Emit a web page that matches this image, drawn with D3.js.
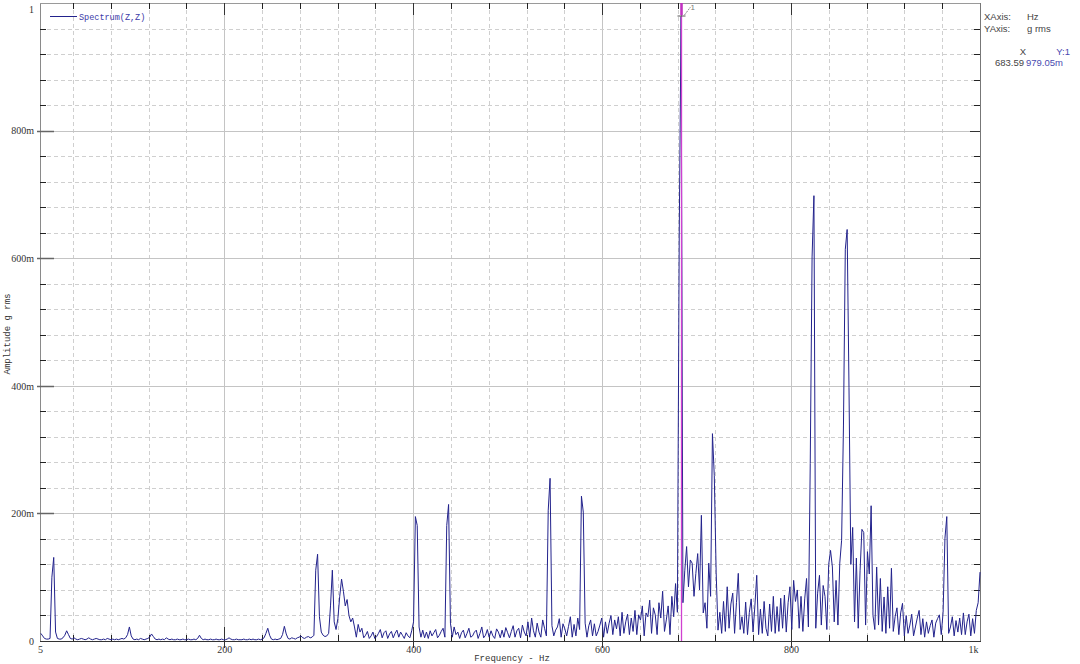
<!DOCTYPE html>
<html><head><meta charset="utf-8">
<script src="https://cdn.jsdelivr.net/npm/d3@7"></script>
<style>body{margin:0;background:#fff;} svg{display:block;}</style>
</head><body><svg id="c" width="1080" height="664"></svg>
<script>
// FFT spectrum: bin width and first displayed bin
const binWidthHz = 1.953125;
const firstBin = 3;
// amplitude in milli-g rms, one value per bin (bins 3..512)
const amplitudeMilliG = [
12, 8, 4, 3, 3, 4, 100, 131, 14, 4,
3, 3, 5, 9, 16, 10, 4, 3, 5, 3,
2, 3, 4, 3, 2, 3, 5, 3, 2, 3,
4, 3, 2, 2, 3, 2, 4, 3, 2, 3,
2, 3, 2, 3, 4, 3, 5, 10, 22, 8,
3, 2, 3, 2, 4, 3, 2, 3, 4, 6,
11, 7, 3, 2, 3, 2, 3, 2, 5, 3,
2, 3, 2, 2, 3, 2, 2, 3, 2, 2,
3, 2, 2, 3, 2, 4, 9, 4, 2, 3,
2, 2, 3, 2, 2, 3, 2, 2, 3, 2,
2, 3, 5, 3, 2, 2, 3, 2, 2, 2,
3, 2, 2, 3, 2, 3, 2, 2, 3, 2,
3, 5, 12, 20, 9, 3, 2, 3, 2, 3,
4, 10, 23, 11, 4, 3, 5, 4, 3, 5,
6, 8, 5, 4, 6, 7, 5, 6, 9, 111,
136, 38, 14, 9, 7, 8, 12, 55, 111, 30,
18, 35, 70, 97, 78, 55, 65, 40, 30, 36,
22, 6, 26, 14, 20, 5, 9, 15, 4, 8,
14, 4, 7, 12, 18, 5, 13, 16, 4, 11,
15, 5, 12, 17, 6, 14, 9, 4, 13, 8,
5, 16, 30, 195, 181, 22, 6, 17, 5, 14,
4, 16, 8, 13, 18, 5, 9, 15, 20, 6,
181, 214, 28, 6, 22, 10, 14, 4, 13, 17,
5, 12, 20, 6, 8, 14, 17, 4, 12, 22,
5, 9, 18, 6, 16, 8, 4, 19, 14, 5,
17, 6, 21, 13, 5, 15, 24, 6, 16, 20,
5, 25, 14, 8, 30, 6, 36, 16, 6, 28,
14, 6, 33, 20, 8, 205, 255, 24, 8, 17,
22, 35, 6, 27, 19, 8, 23, 38, 6, 26,
8, 36, 18, 227, 202, 28, 6, 24, 33, 8,
27, 8, 15, 25, 36, 6, 30, 12, 28, 40,
10, 33, 19, 38, 8, 45, 12, 30, 42, 10,
36, 15, 48, 10, 41, 33, 55, 8, 44, 38,
64, 12, 52, 41, 10, 60, 36, 78, 15, 33,
55, 10, 70, 38, 90, 45, 638, 979, 60, 110,
148, 85, 127, 122, 70, 106, 137, 80, 197, 44,
60, 20, 122, 70, 325, 259, 108, 17, 45, 12,
62, 15, 85, 20, 58, 75, 12, 60, 106, 18,
38, 12, 61, 10, 45, 66, 14, 55, 103, 10,
50, 12, 62, 20, 8, 58, 15, 70, 12, 54,
15, 67, 20, 72, 14, 60, 85, 18, 95, 62,
80, 20, 70, 15, 66, 98, 22, 278, 602, 698,
20, 75, 103, 25, 87, 70, 18, 120, 142, 116,
30, 95, 25, 122, 158, 337, 614, 645, 397, 120,
178, 30, 130, 20, 110, 175, 170, 25, 140, 105,
212, 40, 18, 116, 25, 98, 15, 69, 12, 85,
20, 114, 15, 38, 52, 10, 44, 59, 8, 40,
12, 25, 42, 8, 22, 36, 48, 10, 35, 6,
30, 12, 24, 33, 6, 28, 35, 41, 10, 45,
161, 195, 12, 22, 38, 8, 32, 14, 36, 10,
44, 10, 30, 42, 8, 35, 12, 48, 60, 108
];
const xTickValues = [5, 200, 400, 600, 800, 1000];
const xTickLabels = ["5", "200", "400", "600", "800", "1k"];
const yTickValues = [0, 200, 400, 600, 800, 1000];
const yTickLabels = ["0", "200m", "400m", "600m", "800m", "1"];
const xMinorStep = 40;   // Hz
const yMinorStep = 40;   // milli-g
const legendLabel = "Spectrum(Z,Z)";
const xTitle = "Frequency - Hz";
const yTitle = "Amplitude g rms";
const cursorFreq = 683.59;
const cursorLabel = "1";
const infoLines = [["XAxis:", "Hz"], ["YAxis:", "g rms"]];
const cursorHeader = ["X", "Y:1"];
const cursorReadout = ["683.59", "979.05m"];

const svg = d3.select("#c");
const L = 40, R = 980, T = 3, B = 641;
const x = d3.scaleLinear().domain([5, 1000]).range([L, R]);
const y = d3.scaleLinear().domain([0, 1000]).range([B, T]);

svg.append("rect").attr("width", 1080).attr("height", 664).attr("fill", "#fff");

// grid
const xMinor = d3.range(xMinorStep, 1000, xMinorStep);
const yMinor = d3.range(yMinorStep, 1000, yMinorStep);
const isMajor = v => v % 200 === 0;
const g = svg.append("g");
g.selectAll(".vx").data(xMinor).join("line")
  .attr("x1", d => Math.round(x(d)) + 0.5).attr("x2", d => Math.round(x(d)) + 0.5)
  .attr("y1", T).attr("y2", B)
  .attr("stroke", d => isMajor(d) ? "#c4c4c4" : "#cfcfcf")
  .attr("stroke-dasharray", d => isMajor(d) ? null : "4,3");
g.selectAll(".hy").data(yMinor).join("line")
  .attr("y1", d => Math.round(y(d)) + 0.5).attr("y2", d => Math.round(y(d)) + 0.5)
  .attr("x1", L).attr("x2", R)
  .attr("stroke", d => isMajor(d) ? "#c4c4c4" : "#cfcfcf")
  .attr("stroke-dasharray", d => isMajor(d) ? null : "4,3");

// frame
svg.append("line").attr("x1", L + 0.5).attr("x2", L + 0.5).attr("y1", T).attr("y2", B).attr("stroke", "#8a8a8a");
svg.append("line").attr("x1", L).attr("x2", R).attr("y1", T + 0.5).attr("y2", T + 0.5).attr("stroke", "#9a9a9a");
svg.append("line").attr("x1", R + 0.5).attr("x2", R + 0.5).attr("y1", T).attr("y2", B).attr("stroke", "#777");
svg.append("line").attr("x1", L).attr("x2", R + 1).attr("y1", B + 0.5).attr("y2", B + 0.5).attr("stroke", "#333");

// tick marks
const tk = svg.append("g");
xMinor.forEach(d => {
  const px = Math.round(x(d)) + 0.5;
  if (isMajor(d)) {
    tk.append("line").attr("x1", px).attr("x2", px).attr("y1", B - 14).attr("y2", B + 7).attr("stroke", "#333");
    tk.append("line").attr("x1", px).attr("x2", px).attr("y1", T).attr("y2", T + 12).attr("stroke", "#333");
  } else {
    tk.append("line").attr("x1", px).attr("x2", px).attr("y1", B - 6).attr("y2", B).attr("stroke", "#222");
    tk.append("line").attr("x1", px).attr("x2", px).attr("y1", T).attr("y2", T + 6).attr("stroke", "#222");
  }
});
yMinor.forEach(d => {
  const py = Math.round(y(d)) + 0.5;
  if (isMajor(d)) {
    tk.append("line").attr("x1", L - 3).attr("x2", L + 14).attr("y1", py).attr("y2", py).attr("stroke", "#666").attr("stroke-width", 1.5);
    tk.append("line").attr("x1", R - 10).attr("x2", R).attr("y1", py).attr("y2", py).attr("stroke", "#333");
  } else {
    tk.append("line").attr("x1", L).attr("x2", L + 6).attr("y1", py).attr("y2", py).attr("stroke", "#222");
    tk.append("line").attr("x1", R - 6).attr("x2", R).attr("y1", py).attr("y2", py).attr("stroke", "#222");
  }
});

// axis labels via d3 axes
const xAxis = d3.axisBottom(x).tickValues(xTickValues).tickFormat((d, i) => xTickLabels[i]).tickSize(0).tickPadding(5);
const xa = svg.append("g").attr("transform", `translate(0,${B})`).call(xAxis);
xa.select(".domain").remove();
xa.selectAll("text").attr("font-family", "Liberation Serif, serif").attr("font-size", 10).attr("fill", "#333");
xa.selectAll(".tick").filter(d => d === 1000).select("text").attr("text-anchor", "end").attr("dx", -2);
const yAxis = d3.axisLeft(y).tickValues(yTickValues).tickFormat((d, i) => yTickLabels[i]).tickSize(0).tickPadding(6);
const ya = svg.append("g").attr("transform", `translate(${L},0)`).call(yAxis);
ya.select(".domain").remove();
ya.selectAll("text").attr("font-family", "Liberation Serif, serif").attr("font-size", 10).attr("fill", "#333");
ya.selectAll(".tick").filter(d => d === 1000).select("text").attr("dy", "0.95em");

// titles
svg.append("text").attr("x", 512).attr("y", 661).attr("text-anchor", "middle")
  .attr("font-family", "Liberation Mono, monospace").attr("font-size", 9).attr("fill", "#333").text(xTitle);
svg.append("text").attr("transform", "translate(10,334) rotate(-90)").attr("text-anchor", "middle")
  .attr("font-family", "Liberation Mono, monospace").attr("font-size", 9).attr("fill", "#333").text(yTitle);

// spectrum
const spectrum = amplitudeMilliG.map((v, i) => ({ f: (firstBin + i) * binWidthHz, v }));
const line = d3.line().x(d => x(d.f)).y(d => y(d.v));
svg.append("path").datum(spectrum).attr("d", line).attr("fill", "none")
  .attr("stroke", "#22228c").attr("stroke-width", 1).attr("stroke-linejoin", "miter");

// cursor
const cx = Math.round(x(cursorFreq)) + 0.5;
svg.append("line").attr("x1", cx).attr("x2", cx).attr("y1", T).attr("y2", B)
  .attr("stroke", "#d040d0").attr("stroke-width", 1.3);
svg.append("line").attr("x1", cx).attr("x2", cx).attr("y1", T).attr("y2", T + 12)
  .attr("stroke", "#c030c0").attr("stroke-width", 2.5);
svg.append("line").attr("x1", cx - 4).attr("x2", cx + 4).attr("y1", T + 13).attr("y2", T + 13)
  .attr("stroke", "#555").attr("stroke-width", 1);
svg.append("line").attr("x1", cx + 3).attr("x2", cx + 9).attr("y1", T + 12).attr("y2", T + 4)
  .attr("stroke", "#888").attr("stroke-dasharray", "2,1");
svg.append("text").attr("x", cx + 9).attr("y", T + 7).attr("font-family", "Liberation Sans, sans-serif")
  .attr("font-size", 8).attr("fill", "#777").text(cursorLabel);

// legend
svg.append("line").attr("x1", 50).attr("x2", 77).attr("y1", 16.5).attr("y2", 16.5).attr("stroke", "#22228c");
svg.append("text").attr("x", 79).attr("y", 19.5).attr("font-family", "Liberation Mono, monospace")
  .attr("font-size", 8.5).attr("fill", "#3a3aa8").text(legendLabel);

// info panel
const info = svg.append("g").attr("font-family", "Liberation Sans, Arial, sans-serif").attr("font-size", 9.5).attr("fill", "#444");
infoLines.forEach((r, i) => {
  info.append("text").attr("x", 984).attr("y", 20 + i * 12).text(r[0]);
  info.append("text").attr("x", 1027).attr("y", 20 + i * 12).text(r[1]);
});
info.append("text").attr("x", 1023).attr("y", 55).attr("text-anchor", "middle").text(cursorHeader[0]);
info.append("text").attr("x", 1070).attr("y", 55).attr("text-anchor", "end").attr("fill", "#4a4ab0").text(cursorHeader[1]);
info.append("text").attr("x", 1024).attr("y", 66).attr("text-anchor", "end").text(cursorReadout[0]);
info.append("text").attr("x", 1026).attr("y", 66).attr("fill", "#4a4ab0").text(cursorReadout[1]);
</script>
</body></html>
